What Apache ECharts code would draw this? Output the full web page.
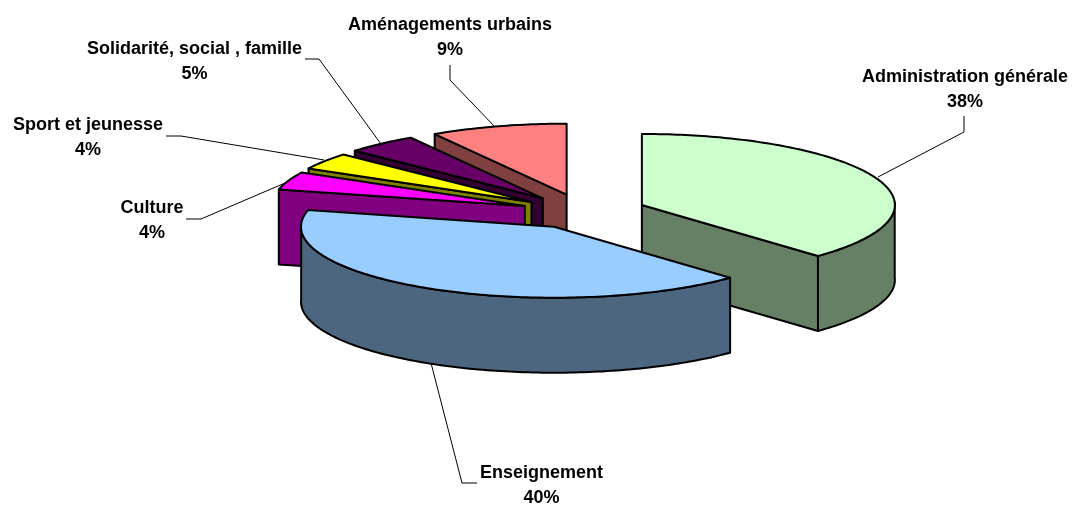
<!DOCTYPE html>
<html>
<head>
<meta charset="utf-8">
<style>html,body{margin:0;padding:0;background:#fff}#c{width:1072px;height:505px}</style>
<script src="https://cdn.jsdelivr.net/npm/echarts@6/dist/echarts.min.js"></script>
</head>
<body>
<div id="c"></div>
<script>
// Data
const categories = ['Administration générale','Enseignement','Culture','Sport et jeunesse','Solidarité, social , famille','Aménagements urbains'];
const values = [38,40,4,4,5,9];
// Styles
const topColors = ['#CCFFCC','#99CCFF','#FF00FF','#FFFF00','#660066','#FF8080'];
const sideColors = ['#668066','#4D6680','#800080','#808000','#330033','#804040'];
// Layout of labels and leader lines
const labelCenters = [[965,77],[541.5,473],[152,208],[88,125],[194.5,49],[450,25]];
const leaders = [
  [[964,116],[964,132],[878,177]],
  [[431,363],[462,483],[477,483]],
  [[186,219],[201,219],[285,183]],
  [[166,136],[181,136],[324,160]],
  [[305,59],[319,59],[381,144]],
  [[450,65],[450,80],[495,127]]
];
const drawOrder = [5,4,3,2,0,1];
const pie = {cx:584, cy:211.4, rx:253, ry:71, depth:75, explode:0.246};

const total = values.reduce((a,b)=>a+b,0);
const bounds = [0];
values.forEach(v=>bounds.push(bounds[bounds.length-1]+v/total*360));
const rad = d=>d*Math.PI/180;
// slight angular distortion caused by the perspective of the 3D view
const proj = d=>d-2*Math.sin(rad(d))-0.56*Math.sin(rad(2*d))+0.8*Math.sin(rad(4*d));

function sliceShapes(i){
  const s=bounds[i], e=bounds[i+1], m=(s+e)/2;
  const ax=pie.cx+pie.explode*pie.rx*Math.sin(rad(m));
  const ay=pie.cy-pie.explode*pie.ry*Math.cos(rad(m));
  const rim=(d,dy=0)=>{const t=proj(d);return [ax+pie.rx*Math.sin(rad(t)),ay-pie.ry*Math.cos(rad(t))+dy];};
  const arc=(a,b,dy=0)=>{const p=[],n=Math.max(2,Math.ceil(Math.abs(b-a)));for(let k=0;k<=n;k++)p.push(rim(a+(b-a)*k/n,dy));return p;};
  const out=[];
  const poly=(points,fill)=>out.push({type:'polygon',shape:{points},style:{fill,stroke:'#000',lineWidth:2,lineJoin:'round'}});
  if(s>180) poly([[ax,ay],rim(s),rim(s,pie.depth),[ax,ay+pie.depth]],sideColors[i]);
  if(e<180) poly([[ax,ay],rim(e),rim(e,pie.depth),[ax,ay+pie.depth]],sideColors[i]);
  const a=Math.max(s,90), b=Math.min(e,270);
  if(b>a) poly(arc(a,b).concat(arc(b,a,pie.depth)),sideColors[i]);
  poly([[ax,ay]].concat(arc(s,e)),topColors[i]);
  return out;
}

const chart = echarts.init(document.getElementById('c'),null,{renderer:'canvas'});
chart.setOption({
  animation:false,
  backgroundColor:'#fff',
  series:[{
    type:'custom',
    coordinateSystem:'none',
    silent:true,
    data:drawOrder.map(i=>({name:categories[i],value:[values[i],i]})),
    renderItem:(params,api)=>{
      const i=api.value(1);
      const children=[];
      children.push({type:'polyline',z2:0,shape:{points:leaders[i]},style:{fill:'none',stroke:'#000',lineWidth:1}});
      sliceShapes(i).forEach(c=>children.push(c));
      const c=labelCenters[i];
      [categories[i],api.value(0)+'%'].forEach((t,k)=>children.push({
        type:'text',z2:10,x:c[0],y:c[1]+k*25,
        style:{text:t,fill:'#000',font:'bold 18px "Liberation Sans", Arial, sans-serif',align:'center',verticalAlign:'middle'}
      }));
      return {type:'group',children};
    }
  }]
});
</script>
</body>
</html>
